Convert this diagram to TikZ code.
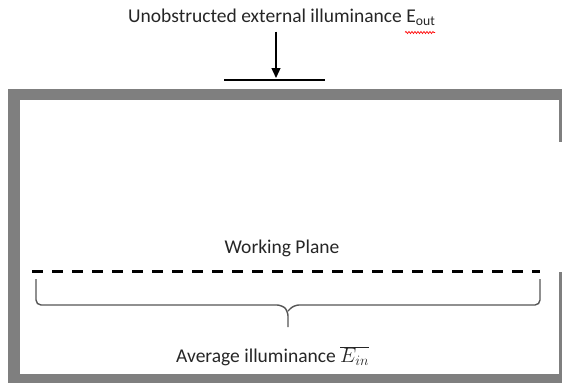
\documentclass[tikz,border=0pt]{standalone}
\usepackage{fontspec}
\setmainfont{Carlito}
\usetikzlibrary{arrows.meta,decorations.pathmorphing}
\definecolor{wallgray}{HTML}{7F7F7F}
\definecolor{bracegray}{HTML}{555555}
\tikzset{
  wall/.style={fill=wallgray},
  lbl/.style={font=\fontsize{19.5}{22}\selectfont, text=black!85, inner sep=0pt},
  arr/.style={line width=1.3pt, -{Triangle[width=9pt,length=10pt]}},
  bar/.style={line width=2.5pt},
  plane/.style={line width=2.8pt, dash pattern=on 11pt off 9pt},
  bracestyle/.style={line width=1.4pt, draw=bracegray, rounded corners=5pt}
}
\begin{document}
\begin{tikzpicture}[x=1pt,y=-1pt]
\useasboundingbox (0,0) rectangle (562,383);
% walls
\fill[wall] (8,88.5) rectangle (20,382.5);
\fill[wall] (8,88.5) rectangle (562,99.5);
\fill[wall] (8,373.5) rectangle (562,383);
\fill[wall] (559.2,88.5) rectangle (561.6,142);
\fill[wall] (559.2,272) rectangle (561.6,383);
% title
\node[lbl, anchor=base west] (title) at (128,22.5) {Unobstructed external illuminance E\textsubscript{out}};
\draw[red, line width=0.7pt, decorate, decoration={snake, amplitude=1pt, segment length=3pt}] (405,32.5) -- (435,32.5);
% window bar and arrow
\coordinate (arrtop) at (276,31.5);
\coordinate (bartop) at (276,78);
\coordinate (barL) at (224,80);
\coordinate (barR) at (325,80);
\draw[bar] (barL) -- (barR);
\draw[arr] (arrtop) -- (bartop);
% working plane
\node[lbl, anchor=base] (wp) at (282,253) {Working Plane};
\coordinate (pL) at (32,271.5);
\coordinate (pR) at (540,271.5);
\draw[plane] (pL) -- (pR);
% brace
\coordinate (bL) at (36,279);
\coordinate (bR) at (540,279);
\coordinate (bTip) at (288,327);
\draw[bracestyle] (bL) -- (36,305) -- (282,305) -- (288,311) -- (bTip);
\draw[bracestyle] (bR) -- (540,305) -- (294,305) -- (288,311);
% average
\node[lbl, anchor=base west] (avg) at (176,362.5) {Average illuminance $\overline{E_{in}}$};
\end{tikzpicture}
\end{document}
